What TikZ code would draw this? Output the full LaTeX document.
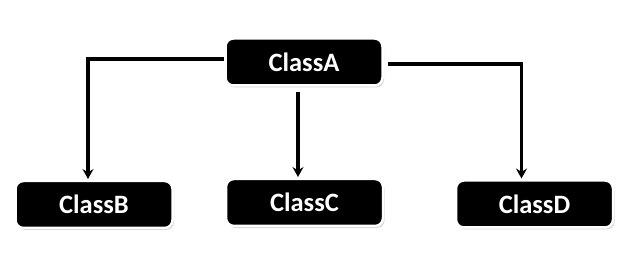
\documentclass[tikz,border=0pt]{standalone}
\usepackage{fontspec}
\setmainfont{Carlito}
\usetikzlibrary{arrows.meta,shadows}
\begin{document}
\begin{tikzpicture}[x=1pt,y=-1pt,
  classbox/.style={fill=black,draw=white,line width=2.5pt,rounded corners=8pt,
    minimum width=157pt,minimum height=47pt,inner sep=0pt,outer sep=2pt,
    text=white,font=\fontsize{26.5}{30}\selectfont\bfseries,
    drop shadow={opacity=0.35,shadow xshift=1.5pt,shadow yshift=-2pt,fill=gray}},
  link/.style={line width=3.2pt,-{Stealth[length=10pt,width=11pt,inset=3.5pt]}}]
\useasboundingbox (0,0) rectangle (627,275);
\node[classbox] (A) at (304,62) {ClassA};
\node[classbox] (B) at (94,204.5) {ClassB};
\node[classbox] (C) at (304.5,202.5) {ClassC};
\node[classbox] (D) at (534.5,204) {ClassD};
\draw[link] ([yshift=3pt]A.west) -| ([xshift=-6pt]B.north);
\draw[link] ([yshift=-2pt,xshift=3pt]A.east) -| ([xshift=-13pt]D.north);
\draw[link] ([xshift=-6pt,yshift=-5pt]A.south) -- ([xshift=-6.5pt]C.north);
\end{tikzpicture}
\end{document}
